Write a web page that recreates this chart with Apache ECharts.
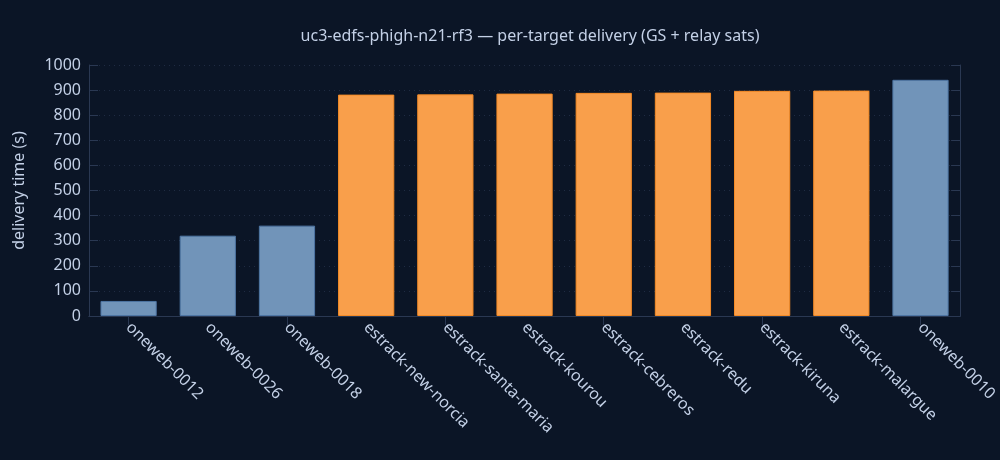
<!DOCTYPE html>
<html>
<head>
<meta charset="utf-8">
<script src="https://cdn.jsdelivr.net/npm/echarts@6/dist/echarts.min.js"></script>
<style>
  html, body { margin: 0; padding: 0; background: #0b1526; }
  #chart { width: 1000px; height: 460px; }
</style>
</head>
<body>
<div id="chart"></div>
<script>
var targets = ['oneweb-0012', 'oneweb-0026', 'oneweb-0018', 'estrack-new-norcia', 'estrack-santa-maria',
  'estrack-kourou', 'estrack-cebreros', 'estrack-redu', 'estrack-kiruna', 'estrack-malargue', 'oneweb-0010'];
var deliveryTime = [60, 320, 360, 882, 883, 886, 889, 890, 897, 898, 941];
var yTicks = [0, 100, 200, 300, 400, 500, 600, 700, 800, 900, 1000];

var textColor = '#c3d0e6';
var lineColor = '#2a3852';
var fontFamily = '"Noto Sans", "Open Sans", sans-serif';

// ground stations orange, relay sats blue
function barColor(name) {
  return name.indexOf('estrack') === 0 ? '#f99f4b' : '#7194b9';
}
function barBorder(name) {
  return name.indexOf('estrack') === 0 ? '#f58b26' : '#4e75a3';
}

var chart = echarts.init(document.getElementById('chart'));

var option = {
  backgroundColor: '#0b1526',
  textStyle: { fontFamily: fontFamily },
  title: {
    text: 'uc3-edfs-phigh-n21-rf3 — per-target delivery (GS + relay sats)',
    left: 525,
    textAlign: 'center',
    top: 23,
    textStyle: { color: textColor, fontSize: 16, fontWeight: 'normal', fontFamily: fontFamily }
  },
  grid: { left: 89, right: 39, top: 65, bottom: 144 },
  xAxis: [{
    type: 'category',
    data: targets,
    axisLine: { show: true, lineStyle: { color: lineColor } },
    axisTick: { show: true, inside: true, length: 9, alignWithLabel: true, lineStyle: { color: lineColor } },
    axisLabel: { color: textColor, fontSize: 16, rotate: -45, margin: 9, interval: 0 },
    splitLine: { show: false }
  }, {
    type: 'category',
    data: targets,
    position: 'top',
    axisLine: { show: true, lineStyle: { color: lineColor } },
    axisTick: { show: true, inside: true, length: 9, alignWithLabel: true, lineStyle: { color: lineColor } },
    axisLabel: { show: false }
  }],
  yAxis: [{
    type: 'value',
    min: yTicks[0],
    max: yTicks[yTicks.length - 1],
    interval: 100,
    name: 'delivery time (s)',
    nameLocation: 'middle',
    nameGap: 62,
    nameTextStyle: { color: textColor, fontSize: 16 },
    axisLine: { show: true, lineStyle: { color: lineColor } },
    axisTick: { show: true, inside: true, length: 9, lineStyle: { color: lineColor } },
    axisLabel: { color: textColor, fontSize: 16, margin: 8, formatter: function (v) { return String(v); } },
    splitLine: { show: true, lineStyle: { color: '#1f2b42', type: [1, 4] } }
  }, {
    type: 'value',
    position: 'right',
    min: yTicks[0],
    max: yTicks[yTicks.length - 1],
    interval: 100,
    axisLine: { show: true, lineStyle: { color: lineColor } },
    axisTick: { show: true, inside: true, length: 9, lineStyle: { color: lineColor } },
    axisLabel: { show: false },
    splitLine: { show: false }
  }],
  series: [{
    type: 'bar',
    barWidth: '71%',
    data: deliveryTime.map(function (v, i) {
      return {
        value: v,
        itemStyle: { color: barColor(targets[i]), borderColor: barBorder(targets[i]), borderWidth: 1 }
      };
    })
  }]
};

chart.setOption(option);
</script>
</body>
</html>
